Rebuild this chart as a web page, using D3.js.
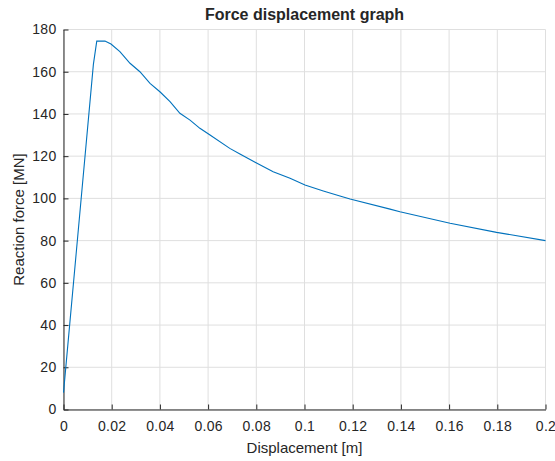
<!DOCTYPE html>
<html>
<head>
<meta charset="utf-8">
<script src="https://cdn.jsdelivr.net/npm/d3@7"></script>
<style>
  body { margin: 0; background: #fff; }
  text { font-family: "Liberation Sans", Arial, sans-serif; fill: #262626; }
</style>
</head>
<body>
<div id="chart"></div>
<script>
// values
const displacement = [0, 0.0124, 0.0138, 0.0172, 0.0197, 0.0234, 0.0276, 0.0317, 0.0359, 0.040,
  0.0442, 0.0483, 0.0525, 0.0566, 0.0608, 0.069, 0.0732, 0.0795, 0.087, 0.094,
  0.1002, 0.1078, 0.1147, 0.1189, 0.1355, 0.1396, 0.1604, 0.1797, 0.2];
const force = [8, 163.5, 174.5, 174.5, 173.1, 169.5, 164, 160, 154.5, 150.5,
  145.8, 140.3, 137.1, 133.2, 130, 123.7, 121, 117.1, 112.6, 109.5,
  106.3, 103.5, 101.1, 99.7, 94.9, 93.7, 88.2, 83.9, 80];
const xTicks = [0, 0.02, 0.04, 0.06, 0.08, 0.1, 0.12, 0.14, 0.16, 0.18, 0.2];
const yTicks = [0, 20, 40, 60, 80, 100, 120, 140, 160, 180];

const width = 555;
const height = 461;
const plotLeft = 63.5, plotRight = 545.5, plotTop = 29.5, plotBottom = 409.5;

const svg = d3.select("#chart").append("svg")
  .attr("width", width)
  .attr("height", height);

const x = d3.scaleLinear().domain([0, 0.2]).range([plotLeft, plotRight]);
const y = d3.scaleLinear().domain([0, 180]).range([plotBottom, plotTop]);

// grid
svg.append("g").selectAll("line").data(xTicks).join("line")
  .attr("x1", d => x(d)).attr("x2", d => x(d))
  .attr("y1", y(0)).attr("y2", y(180))
  .attr("stroke", "#dfdfdf").attr("stroke-width", 1);
svg.append("g").selectAll("line").data(yTicks).join("line")
  .attr("x1", x(0)).attr("x2", x(0.2))
  .attr("y1", d => y(d)).attr("y2", d => y(d))
  .attr("stroke", "#dfdfdf").attr("stroke-width", 1);

// axes
const xAxis = svg.append("g")
  .attr("transform", `translate(0,${y(0)})`)
  .call(d3.axisBottom(x).tickValues(xTicks).tickFormat(d3.format("~g"))
    .tickSizeInner(-5).tickSizeOuter(0).tickPadding(12));
const yAxis = svg.append("g")
  .attr("transform", `translate(${x(0)},0)`)
  .call(d3.axisLeft(y).tickValues(yTicks)
    .tickSizeInner(-5).tickSizeOuter(0).tickPadding(7));
[xAxis, yAxis].forEach(g => {
  g.select(".domain").attr("stroke", "#262626");
  g.selectAll(".tick line").attr("stroke", "#262626");
  g.selectAll("text").style("font-size", "14px").style("letter-spacing", "0.3px")
    .attr("fill", "#262626");
});

// curve
svg.append("path")
  .datum(displacement.map((d, i) => [d, force[i]]))
  .attr("fill", "none")
  .attr("stroke", "#0072BD")
  .attr("stroke-width", 1.1)
  .attr("d", d3.line().x(d => x(d[0])).y(d => y(d[1])));

// labels
svg.append("text")
  .attr("x", (x(0) + x(0.2)) / 2).attr("y", 20)
  .attr("text-anchor", "middle")
  .style("font-size", "16px").style("font-weight", "bold")
  .text("Force displacement graph");
svg.append("text")
  .attr("x", (x(0) + x(0.2)) / 2).attr("y", 453)
  .attr("text-anchor", "middle")
  .style("font-size", "15px")
  .text("Displacement [m]");
svg.append("text")
  .attr("transform", `translate(24,${(y(0) + y(180)) / 2}) rotate(-90)`)
  .attr("text-anchor", "middle")
  .style("font-size", "15px")
  .text("Reaction force [MN]");
</script>
</body>
</html>
